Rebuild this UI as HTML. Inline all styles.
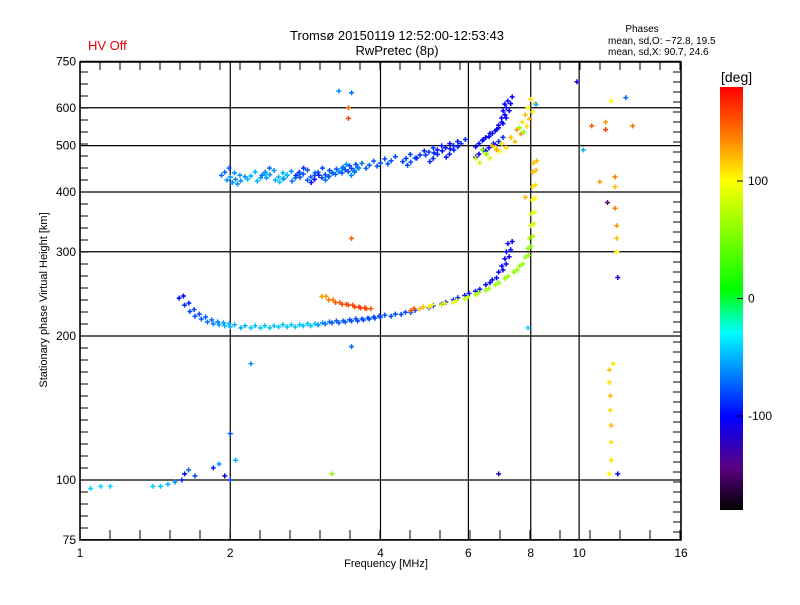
<!DOCTYPE html>
<html><head><meta charset="utf-8"><style>
body{margin:0;background:#fff;}
svg text{font-family:"Liberation Sans",sans-serif;}
</style></head><body>
<svg id="c" width="800" height="600" xmlns="http://www.w3.org/2000/svg">
<rect width="800" height="600" fill="#fff"/>
<text x="397" y="40" font-size="13" text-anchor="middle">Tromsø 20150119 12:52:00-12:53:43</text>
<text x="397" y="55" font-size="13" text-anchor="middle">RwPretec (8p)</text>
<text x="88" y="50" font-size="13" fill="#e00">HV Off</text>
<text x="642" y="32" font-size="10" text-anchor="middle">Phases</text>
<text x="608" y="44" font-size="10">mean, sd,O: −72.8, 19.5</text>
<text x="608" y="55" font-size="10">mean, sd,X:  90.7, 24.6</text>
<text x="386" y="567" font-size="11" text-anchor="middle">Frequency [MHz]</text>
<text transform="translate(47,300) rotate(-90)" font-size="11" text-anchor="middle">Stationary phase Virtual Height [km]</text>
<g id="grid"></g><g id="pts"></g><g id="axes"></g><g id="cbar"></g>
</svg>
<script>
const xTicks=[1,2,4,6,8,10,16];
const yTicks=[75,100,200,300,400,500,600,750];
const cbTicks=[100,0,-100];
// lower O trace
const oLowF=[1.58,1.62,1.66,1.70,1.75,1.80,1.85,1.90,1.95,2.0,2.1,2.2,2.3,2.4,2.5,2.6,2.7,2.8,2.9,3.0,3.1,3.2,3.3,3.4,3.5,3.6,3.7,3.8,3.9,4.0,4.2,4.4,4.6,5.0,5.3,5.6,5.9,6.2,6.5,6.7,6.9,7.0,7.1,7.15,7.2];
const oLowH=[240,232,225,220,217,214,212,211,210,209,208,208,208,208,209,209,209,210,210,211,212,213,213,214,215,215,216,217,218,219,220,222,224,229,233,238,243,248,256,262,272,280,290,300,312];
const oLowP=[-100,-90,-80,-80,-75,-70,-65,-55,-50,-50,-50,-45,-45,-45,-45,-45,-45,-45,-45,-60,-70,-75,-75,-80,-80,-80,-80,-80,-80,-80,-80,-80,-80,-85,-90,-90,-95,-95,-100,-100,-105,-100,-105,-100,-105];
// X trace
const xF=[4.6,4.8,5.0,5.3,5.6,5.9,6.2,6.5,6.8,7.1,7.4,7.6,7.8,7.9,7.95,8.0,8.02,8.04,8.06,8.08,8.1];
const xH=[226,228,230,232,235,239,244,249,256,264,272,280,292,305,320,340,360,385,410,440,460];
const xP=[150,120,100,95,90,80,70,65,60,60,60,60,60,60,70,80,90,100,110,120,120];
// sporadic orange trace
const orF=[3.05,3.15,3.25,3.35,3.45,3.55,3.65,3.75];
const orH=[242,238,235,233,232,230,229,228];
const orP=[130,140,150,155,155,160,160,150];
// upper O trace
const oUpF=[1.95,2.0,2.05,2.2,2.3,2.4,2.5,2.6,2.7,2.8,2.9,3.0,3.1,3.2,3.3,3.4,3.5,3.6,3.8,4.0,4.2,4.5,4.8,5.0,5.2,5.4,5.6,5.8,2.1,2.35,2.55,2.75,2.95,3.15,3.35,3.55,4.6,5.1,5.5,6.3,6.5,6.7,6.9,7.0,7.1,7.15,7.2,6.3,6.6,6.9];
const oUpH=[440,430,425,432,428,435,430,433,428,436,430,440,435,438,442,445,448,450,455,460,465,470,478,485,490,495,500,505,422,440,426,440,425,430,448,440,462,470,480,505,520,530,545,560,580,600,620,480,495,510];
const oUpP=[-70,-60,-60,-50,-50,-60,-50,-60,-70,-80,-75,-80,-80,-75,-70,-80,-80,-70,-75,-80,-80,-85,-90,-85,-95,-100,-95,-90,-60,-70,-45,-90,-100,-70,-60,-60,-80,-90,-95,-100,-100,-105,-100,-105,-100,-105,-100,-110,-100,-90];
// upper X trace
const xUpF=[6.2,6.5,6.8,7.0,7.3,7.5,7.7,7.8,7.9,8.0,6.4,6.7,7.6];
const xUpH=[470,480,495,505,520,540,560,580,600,625,490,500,545];
const xUpP=[80,85,100,110,120,130,110,120,100,110,60,130,60];
// scattered echoes
const scF=[1.05,1.1,1.15,1.4,1.45,1.5,1.55,1.6,1.62,1.65,1.7,1.85,1.9,1.95,2.0,2.05,3.3,3.5,3.45,3.45,3.5,3.5,2.2,2.0,3.2,6.9,9.9,10.6,11.3,11.3,11.6,12.4,12.8,10.2,11.0,11.4,11.8,11.8,11.8,11.9,11.9,11.9,11.95,11.7,11.5,11.5,11.55,11.55,11.6,11.6,11.6,11.5,11.95,7.9,7.8,8.2];
const scH=[96,97,97,97,97,98,99,100,103,105,102,106,108,102,100,110,650,645,600,570,320,190,175,125,103,103,680,550,560,540,620,630,550,490,420,380,370,430,410,340,320,300,265,175,170,160,150,140,130,120,110,103,103,208,390,610];
const scP=[-40,-40,-40,-40,-45,-50,-60,-90,-100,-70,-80,-90,-60,-110,-80,-50,-60,-70,150,160,150,-70,-60,-80,60,-120,-110,150,130,160,100,-70,140,-50,130,-150,140,140,120,130,120,100,-110,110,120,110,120,110,120,110,110,100,-100,-40,120,-50];

const L=80,R=681,T=62,B=540;
const xs=f=>L+(R-L)*Math.log2(f)/4;
const ys=h=>480-144*Math.log2(h/100);
const stops=[[0,[0,0,0]],[0.1,[90,0,130]],[0.22,[0,0,255]],[0.42,[0,255,255]],[0.52,[0,255,0]],[0.78,[255,255,0]],[0.88,[255,128,0]],[1,[255,0,0]]];
function col(p){let t=Math.max(0,Math.min(1,(p+180)/360));for(let i=1;i<stops.length;i++){if(t<=stops[i][0]){const a=stops[i-1],b=stops[i],u=(t-a[0])/(b[0]-a[0]);return 'rgb('+a[1].map((v,k)=>Math.round(v+(b[1][k]-v)*u)).join(',')+')';}}return 'rgb(255,0,0)';}
const NS='http://www.w3.org/2000/svg';
function mk(tag,at,par){const e=document.createElementNS(NS,tag);for(const k in at)e.setAttribute(k,at[k]);par.appendChild(e);return e;}
const grid=document.getElementById('grid'),pts=document.getElementById('pts'),axes=document.getElementById('axes'),cb=document.getElementById('cbar');
xTicks.forEach(v=>{const x=xs(v);
 const g=mk('line',{x1:x,x2:x,y1:T,y2:B,stroke:'#000','stroke-width':1.2},grid);
 
 
 const t=mk('text',{x:x,y:B+17,'font-size':12,'text-anchor':'middle'},axes);t.textContent=v;
 
 });
yTicks.forEach(v=>{const y=ys(v);
 const g=mk('line',{x1:L,x2:R,y1:y,y2:y,stroke:'#000','stroke-width':1.2},grid);
 
 
 const t=mk('text',{x:L-4,y:y+4,'font-size':12,'text-anchor':'end'},axes);t.textContent=v;
 
 });
let tk='';
for(let x=L+30;x<R;x+=30)tk+=`M${x} ${B}v-10`;
for(let x=L+20;x<R;x+=20)tk+=`M${x} ${T}v8`;
for(let y=B-12;y>T;y-=12)tk+=`M${L} ${y}h8`;
for(let y=T+10;y<B;y+=10)tk+=`M${R} ${y}h-8`;
const tp=mk('path',{d:tk,stroke:'#000','stroke-width':1,fill:'none'},axes);


const fr=mk('rect',{x:L,y:T,width:R-L,height:B-T,fill:'none',stroke:'#000','stroke-width':1.5},axes);


function plot(F,H,P,name,df){for(let i=0;i<F.length;i++){const x=xs(F[i]*(df||1)),y=ys(H[i]);
 const e=mk('path',{d:`M${x-2.5} ${y}h5M${x} ${y-2.5}v5`,stroke:col(P[i]),'stroke-width':1.5},pts);
 
 }}
plot(oLowF,oLowH,oLowP,'o-trace-point');
plot(oLowF,oLowH.map(h=>h*1.01),oLowP,'o-trace-point',1.02);
plot(xF,xH,xP,'x-trace-point');
plot(xF,xH.map(h=>h*1.01),xP,'x-trace-point',1.015);
plot(orF,orH,orP,'sporadic-trace-point');
plot(orF,orH,orP,'sporadic-trace-point',1.02);
plot(oUpF,oUpH,oUpP,'upper-o-trace-point');
plot(oUpF,oUpH.map(h=>h*1.02),oUpP,'upper-o-trace-point',1.02);
plot(oUpF,oUpH.map(h=>h*0.985),oUpP,'upper-o-trace-point',0.985);
plot(xUpF,xUpH,xUpP,'upper-x-trace-point');
plot(xUpF,xUpH.map(h=>h*0.98),xUpP,'upper-x-trace-point',1.02);
plot(scF,scH,scP,'scatter-point');
// colorbar
const CT=87,CB=510,pmin=-180,pmax=180;const cy=p=>CB-(p-pmin)/(pmax-pmin)*(CB-CT);
const defs=mk('defs',{},cb);const lg=mk('linearGradient',{id:'g',x1:0,y1:1,x2:0,y2:0},defs);
stops.forEach(s=>mk('stop',{offset:s[0],'stop-color':`rgb(${s[1].join(',')})`},lg));
const cr=mk('rect',{x:720,y:CT,width:23,height:CB-CT,fill:'url(#g)'},cb);


const cl=mk('text',{x:721,y:82,'font-size':14},cb);cl.textContent='[deg]';


cbTicks.forEach(v=>{const y=cy(v);mk('line',{x1:737,x2:743,y1:y,y2:y,stroke:'#000'},cb);
 const t=mk('text',{x:748,y:y+4,'font-size':12},cb);t.textContent=v;
 
 });
</script>
</body></html>
